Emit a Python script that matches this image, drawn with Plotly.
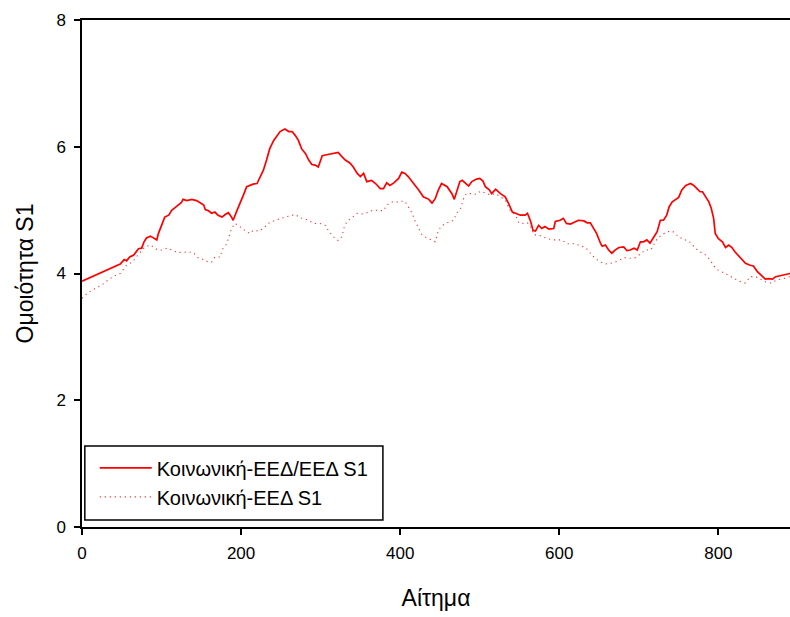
import plotly.graph_objects as go

# Request index and similarity S1 for the combined social/EED series
req_combined = [0, 48, 53, 56, 60, 65, 71, 75, 78, 81, 86, 92, 94, 96, 100, 104, 109, 113, 117, 121,
                125, 127, 132, 138, 144, 148, 153, 155, 159, 163, 167, 171, 176, 180, 184, 188, 190, 195,
                199, 203, 207, 211, 215, 220, 224, 228, 232, 236, 241, 245, 249, 255, 260, 264, 268, 272,
                276, 281, 285, 289, 293, 297, 302, 306, 310, 316, 322, 327, 331, 337, 341, 346, 350, 354,
                358, 364, 369, 375, 379, 383, 387, 392, 398, 402, 406, 410, 417, 423, 429, 436, 440, 444,
                448, 452, 459, 465, 468, 471, 475, 478, 482, 486, 490, 496, 500, 504, 507, 512, 515, 520,
                526, 532, 536, 541, 545, 551, 557, 560, 564, 567, 570, 574, 578, 582, 587, 593, 595, 601,
                605, 609, 614, 620, 624, 631, 635, 639, 643, 647, 652, 654, 658, 662, 666, 670, 675, 681,
                685, 689, 694, 698, 702, 706, 710, 714, 719, 723, 727, 731, 735, 738, 742, 746, 750, 754,
                759, 765, 769, 773, 777, 780, 784, 788, 791, 794, 796, 800, 805, 809, 813, 817, 821, 828,
                834, 840, 844, 849, 855, 859, 863, 868, 872, 890]
sim_combined = [3.88, 4.15, 4.22, 4.20, 4.26, 4.29, 4.39, 4.40, 4.50, 4.56, 4.59, 4.55, 4.53, 4.63, 4.76,
                4.89, 4.92, 5.00, 5.04, 5.08, 5.12, 5.17, 5.15, 5.17, 5.15, 5.12, 5.08, 5.01, 4.99, 4.95,
                4.97, 4.92, 4.89, 4.93, 4.96, 4.89, 4.84, 5.00, 5.11, 5.24, 5.37, 5.39, 5.41, 5.42, 5.53,
                5.63, 5.79, 5.97, 6.10, 6.18, 6.24, 6.28, 6.24, 6.24, 6.18, 6.10, 5.97, 5.89, 5.79, 5.72,
                5.71, 5.68, 5.86, 5.87, 5.88, 5.89, 5.91, 5.84, 5.79, 5.74, 5.68, 5.58, 5.53, 5.58, 5.45,
                5.47, 5.42, 5.34, 5.34, 5.43, 5.39, 5.43, 5.50, 5.60, 5.58, 5.53, 5.42, 5.32, 5.21, 5.17,
                5.11, 5.18, 5.32, 5.42, 5.37, 5.26, 5.17, 5.29, 5.45, 5.47, 5.42, 5.38, 5.45, 5.49, 5.50,
                5.46, 5.37, 5.32, 5.26, 5.33, 5.26, 5.21, 5.11, 4.97, 4.95, 4.92, 4.92, 4.95, 4.82, 4.68,
                4.67, 4.76, 4.71, 4.74, 4.70, 4.71, 4.82, 4.84, 4.87, 4.79, 4.78, 4.82, 4.84, 4.83, 4.80,
                4.80, 4.71, 4.63, 4.47, 4.43, 4.45, 4.37, 4.32, 4.37, 4.41, 4.42, 4.36, 4.37, 4.40, 4.37,
                4.50, 4.50, 4.53, 4.48, 4.58, 4.66, 4.84, 4.84, 4.92, 5.05, 5.13, 5.17, 5.20, 5.32, 5.39,
                5.42, 5.39, 5.34, 5.29, 5.29, 5.21, 5.13, 5.03, 4.87, 4.63, 4.55, 4.50, 4.41, 4.45, 4.41,
                4.34, 4.24, 4.16, 4.13, 4.12, 4.03, 3.95, 3.91, 3.92, 3.91, 3.95, 4.00]

# Request index and similarity S1 for the social/EED series
req_social = [0, 8, 16, 25, 33, 39, 48, 56, 63, 67, 73, 79, 86, 94, 100, 107, 113, 119, 125, 132, 140,
              146, 153, 159, 163, 167, 174, 176, 182, 184, 188, 192, 197, 201, 207, 211, 215, 222, 228,
              234, 241, 249, 255, 262, 268, 274, 281, 287, 293, 299, 306, 310, 316, 322, 327, 329, 333,
              339, 346, 352, 358, 366, 373, 379, 383, 390, 394, 400, 406, 410, 415, 419, 423, 427, 431,
              438, 444, 448, 452, 459, 467, 471, 476, 479, 483, 490, 496, 501, 507, 513, 520, 526, 532,
              538, 545, 549, 554, 560, 564, 568, 574, 578, 585, 591, 597, 603, 610, 618, 624, 633, 639,
              645, 652, 658, 664, 670, 677, 683, 689, 696, 702, 708, 715, 719, 723, 729, 736, 742, 746,
              750, 756, 763, 771, 777, 784, 790, 794, 800, 807, 813, 819, 826, 834, 840, 847, 853, 859,
              866, 874, 882, 890]
sim_social = [3.61, 3.70, 3.76, 3.82, 3.90, 3.95, 4.00, 4.13, 4.18, 4.24, 4.32, 4.42, 4.45, 4.38, 4.37,
              4.40, 4.37, 4.34, 4.33, 4.34, 4.33, 4.25, 4.22, 4.18, 4.18, 4.26, 4.26, 4.37, 4.47, 4.55,
              4.71, 4.79, 4.76, 4.71, 4.66, 4.63, 4.68, 4.67, 4.71, 4.79, 4.83, 4.87, 4.89, 4.91, 4.93,
              4.88, 4.86, 4.82, 4.79, 4.79, 4.76, 4.67, 4.58, 4.52, 4.58, 4.71, 4.82, 4.88, 4.95, 4.94,
              4.96, 5.00, 5.00, 4.99, 5.08, 5.13, 5.12, 5.14, 5.14, 5.05, 4.95, 4.82, 4.71, 4.62, 4.58,
              4.53, 4.50, 4.68, 4.75, 4.80, 4.84, 4.95, 5.03, 5.16, 5.26, 5.26, 5.25, 5.30, 5.27, 5.24,
              5.26, 5.21, 5.16, 5.00, 4.92, 4.80, 4.79, 4.80, 4.74, 4.61, 4.61, 4.58, 4.55, 4.53, 4.53,
              4.53, 4.47, 4.47, 4.45, 4.41, 4.32, 4.24, 4.18, 4.15, 4.16, 4.18, 4.22, 4.25, 4.24, 4.25,
              4.31, 4.37, 4.37, 4.47, 4.55, 4.61, 4.66, 4.67, 4.63, 4.58, 4.54, 4.51, 4.40, 4.34, 4.29,
              4.21, 4.12, 4.05, 4.01, 3.97, 3.92, 3.88, 3.85, 3.95, 3.95, 3.91, 3.87, 3.85, 3.90, 3.92,
              3.95]

x_ticks = [0, 200, 400, 600, 800]
y_ticks = [0, 2, 4, 6, 8]

FONT = "Arial, 'Liberation Sans', sans-serif"

fig = go.Figure()
fig.add_trace(go.Scatter(
    x=req_combined, y=sim_combined, mode="lines",
    name="Κοινωνική-ΕΕΔ/ΕΕΔ S1",
    line=dict(color="#ff0000", width=1.7),
))
fig.add_trace(go.Scatter(
    x=req_social, y=sim_social, mode="lines",
    name="Κοινωνική-ΕΕΔ S1",
    line=dict(color="#ff3030", width=1.1, dash="1.2px,3.8px"),
))

axis_common = dict(
    showgrid=False, zeroline=False, showline=True, linecolor="black", linewidth=1.5,
    ticks="outside", ticklen=6, tickwidth=1.5, tickcolor="black",
    tickfont=dict(family=FONT, size=17, color="black"),
)

fig.update_xaxes(
    range=[0, 890], tickvals=x_ticks, mirror=True, ticklabelstandoff=4,
    title=dict(text="Αίτημα", font=dict(family=FONT, size=23, color="black"), standoff=28),
    **axis_common,
)
fig.update_yaxes(
    range=[0, 8], tickvals=y_ticks, ticklabelstandoff=5,
    title=dict(text="Ομοιότητα S1", font=dict(family=FONT, size=23, color="black"), standoff=16),
    **axis_common,
)

# Legend frame
fig.add_shape(type="rect", xref="paper", yref="paper",
              x0=0.004, x1=0.425, y0=0.014, y1=0.160,
              line=dict(color="black", width=1.5), fillcolor="white", layer="below")

fig.update_layout(
    width=790, height=617,
    margin=dict(l=82, r=0, t=20, b=90, autoexpand=False),
    paper_bgcolor="white", plot_bgcolor="white",
    font=dict(family=FONT, color="black"),
    legend=dict(
        x=0.018, y=0.088, xanchor="left", yanchor="middle",
        bgcolor="rgba(0,0,0,0)", borderwidth=0,
        font=dict(family=FONT, size=20, color="black"),
        tracegroupgap=0, itemwidth=52,
    ),
)

fig.write_html("out.html")
